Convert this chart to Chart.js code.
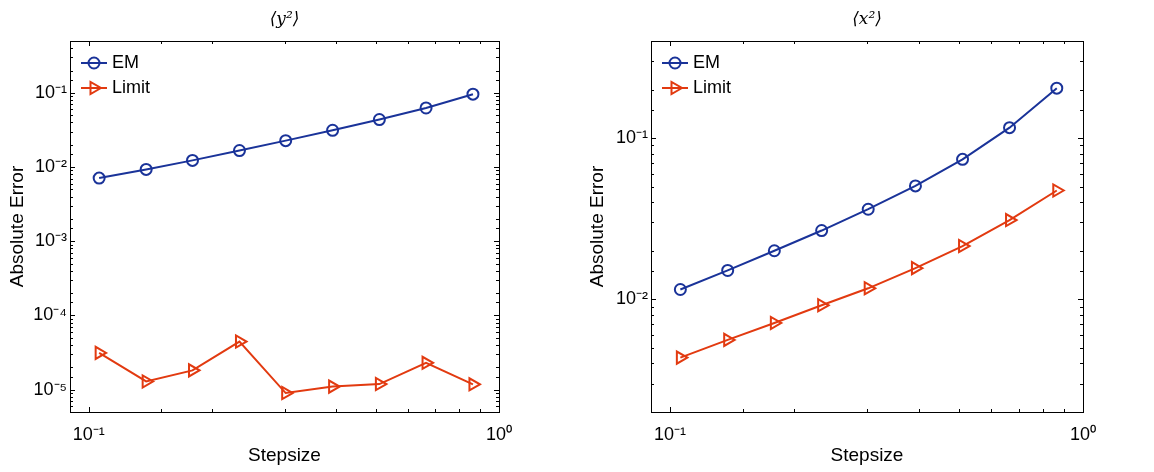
<!DOCTYPE html>
<html>
<head>
<meta charset="utf-8">
<script src="https://cdn.jsdelivr.net/npm/chart.js@4/dist/chart.umd.min.js"></script>
<style>
html, body { margin: 0; padding: 0; background: #fff; }
.wrap { position: absolute; top: 0; width: 577px; height: 472px; }
#w1 { left: 0; }
#w2 { left: 577px; }
</style>
</head>
<body>
<div class="wrap" id="w1"><canvas id="c1" width="577" height="472"></canvas></div>
<div class="wrap" id="w2"><canvas id="c2" width="577" height="472"></canvas></div>
<script>
// ---- data ----
const stepsize = [0.106, 0.138, 0.179, 0.233, 0.302, 0.393, 0.511, 0.664, 0.864];
const emY2    = [7.1e-3, 9.3e-3, 1.23e-2, 1.67e-2, 2.27e-2, 3.13e-2, 4.37e-2, 6.26e-2, 9.6e-2];
const limitY2 = [3.13e-5, 1.29e-5, 1.82e-5, 4.45e-5, 9.0e-6, 1.10e-5, 1.19e-5, 2.30e-5, 1.18e-5];
const emX2    = [1.15e-2, 1.51e-2, 2.00e-2, 2.67e-2, 3.62e-2, 5.05e-2, 7.38e-2, 0.116, 0.204];
const limitX2 = [4.35e-3, 5.6e-3, 7.13e-3, 9.18e-3, 1.17e-2, 1.56e-2, 2.14e-2, 3.10e-2, 4.73e-2];
const seriesNames = ['EM', 'Limit'];
const panelTitles = ['\u27E8y\u00B2\u27E9', '\u27E8x\u00B2\u27E9'];
const xTickValues = [0.1, 1];
const xTickLabels = ['10\u207B\u00B9', '10\u2070'];
const yTickValuesLeft = [1e-5, 1e-4, 1e-3, 1e-2, 1e-1];
const yTickLabelsLeft = ['10\u207B\u2075', '10\u207B\u2074', '10\u207B\u00B3', '10\u207B\u00B2', '10\u207B\u00B9'];
const yTickValuesRight = [1e-2, 1e-1];
const yTickLabelsRight = ['10\u207B\u00B2', '10\u207B\u00B9'];
const xAxisTitle = 'Stepsize';
const yAxisTitle = 'Absolute Error';

const BLUE = '#1a3399';
const RED = '#e23a10';
const FONT = "'Liberation Sans', Arial, Helvetica, sans-serif";

function labelFor(values, labels) {
  return function (v) {
    for (let i = 0; i < values.length; i++) {
      if (Math.abs(Math.log10(v) - Math.log10(values[i])) < 1e-6) return labels[i];
    }
    return '';
  };
}

function isPow10(v) {
  const e = Math.log10(v);
  return Math.abs(e - Math.round(e)) < 1e-6;
}

const innerTicks = {
  id: 'innerTicks',
  afterDraw(chart) {
    const { ctx, chartArea: a } = chart;
    const x = chart.scales.x, y = chart.scales.y;
    ctx.save();
    ctx.strokeStyle = '#000';
    ctx.lineWidth = 1;
    ctx.beginPath();
    x.ticks.forEach(t => {
      const p = Math.round(x.getPixelForValue(t.value)) + 0.5;
      if (p <= a.left + 1 || p >= a.right - 1) return;
      const L = isPow10(t.value) ? 5 : 3;
      ctx.moveTo(p, a.bottom); ctx.lineTo(p, a.bottom - L);
      ctx.moveTo(p, a.top); ctx.lineTo(p, a.top + L);
    });
    y.ticks.forEach(t => {
      const p = Math.round(y.getPixelForValue(t.value)) + 0.5;
      if (p <= a.top + 1 || p >= a.bottom - 1) return;
      const L = isPow10(t.value) ? 5 : 3;
      ctx.moveTo(a.left, p); ctx.lineTo(a.left + L, p);
      ctx.moveTo(a.right, p); ctx.lineTo(a.right - L, p);
    });
    ctx.stroke();
    ctx.strokeRect(Math.round(a.left) + 0.5, Math.round(a.top) + 0.5,
                   Math.round(a.right - a.left), Math.round(a.bottom - a.top));
    ctx.restore();
  }
};

function legendImage(color, style, radius, rotation) {
  const c = document.createElement('canvas');
  c.width = 28; c.height = 18;
  const g = c.getContext('2d');
  g.strokeStyle = color;
  g.lineWidth = 2;
  g.beginPath(); g.moveTo(1, 9); g.lineTo(27, 9); g.stroke();
  g.lineWidth = 2;
  g.fillStyle = 'rgba(0,0,0,0)';
  Chart.helpers.drawPoint(g, { pointStyle: style, rotation: rotation, radius: radius, borderWidth: 2 }, 14, 9);
  return c;
}

const insideLegend = {
  id: 'insideLegend',
  afterDraw(chart) {
    const { ctx, chartArea: a } = chart;
    ctx.save();
    ctx.font = "18px " + FONT;
    ctx.fillStyle = '#000';
    ctx.textBaseline = 'middle';
    ctx.textAlign = 'left';
    chart.data.datasets.forEach((ds, i) => {
      const y = a.top + 21.5 + i * 25;
      const x0 = a.left + 11;
      ctx.drawImage(ds.legendImg, x0 - 1, Math.round(y) - 9);
      ctx.fillText(ds.label, x0 + 31, y + 0.5);
    });
    ctx.restore();
  }
};

function makeChart(id, title, em, limit, yMin, yMax, yVals, yLabels, axisWidth, padRight, yTitlePad) {
  return new Chart(document.getElementById(id), {
    type: 'line',
    data: {
      datasets: [
        {
          label: seriesNames[0],
          legendImg: legendImage(BLUE, 'circle', 5.5, 0),
          data: stepsize.map((s, i) => ({ x: s, y: em[i] })),
          borderColor: BLUE, borderWidth: 2,
          pointStyle: 'circle', pointRadius: 5.5, pointBorderWidth: 2,
          pointBorderColor: BLUE, pointBackgroundColor: 'rgba(0,0,0,0)',
          fill: false, tension: 0
        },
        {
          label: seriesNames[1],
          legendImg: legendImage(RED, 'triangle', 7, 90),
          data: stepsize.map((s, i) => ({ x: s, y: limit[i] })),
          borderColor: RED, borderWidth: 2,
          pointStyle: 'triangle', pointRotation: 90, pointRadius: 7, pointBorderWidth: 2,
          pointBorderColor: RED, pointBackgroundColor: 'rgba(0,0,0,0)',
          fill: false, tension: 0
        }
      ]
    },
    options: {
      responsive: false,
      animation: false,
      devicePixelRatio: 1,
      layout: { padding: { left: 0, right: padRight, top: 0, bottom: 0 } },
      plugins: {
        title: {
          display: true, fullSize: false, text: title, color: '#000',
          font: { family: "'DejaVu Serif', 'Liberation Serif', serif", size: 17, style: 'italic', weight: 'normal', lineHeight: 1.2 },
          padding: { top: 9, bottom: 11.6 }
        },
        legend: { display: false },
        tooltip: { enabled: false }
      },
      scales: {
        x: {
          type: 'logarithmic', position: 'bottom', min: 0.09, max: 1,
          grid: { display: false, drawTicks: false },
          border: { display: false },
          afterFit(scale) { scale.height = 60; },
          ticks: {
            autoSkip: false, maxRotation: 0, minRotation: 0, padding: 12, color: '#000',
            font: { family: FONT, size: 18 },
            callback: labelFor(xTickValues, xTickLabels)
          },
          title: {
            display: true, text: xAxisTitle, color: '#000',
            font: { family: FONT, size: 19 }, padding: { top: 0, bottom: 5 }
          }
        },
        y: {
          type: 'logarithmic', position: 'left', min: yMin, max: yMax,
          grid: { display: false, drawTicks: false },
          border: { display: false },
          afterFit(scale) { scale.width = axisWidth; },
          ticks: {
            autoSkip: false, padding: 3, color: '#000',
            font: { family: FONT, size: 18 },
            callback: labelFor(yVals, yLabels)
          },
          title: {
            display: true, text: yAxisTitle, color: '#000',
            font: { family: FONT, size: 19 }, padding: { top: yTitlePad, bottom: 0 }
          }
        }
      }
    },
    plugins: [innerTicks, insideLegend]
  });
}

makeChart('c1', panelTitles[0], emY2, limitY2, 5e-6, 0.5, yTickValuesLeft, yTickLabelsLeft, 70, 78, 6);
makeChart('c2', panelTitles[1], emX2, limitX2, 2e-3, 0.4, yTickValuesRight, yTickLabelsRight, 74, 71, 9);
</script>
</body>
</html>
